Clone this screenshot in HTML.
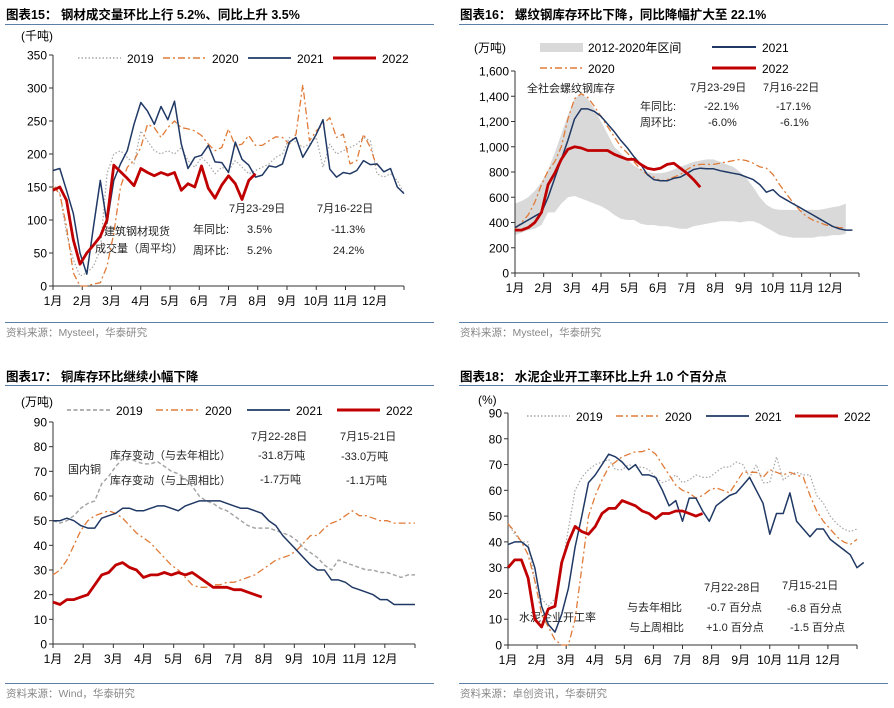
<!DOCTYPE html>
<html><head><meta charset="utf-8">
<style>
html,body{margin:0;padding:0;background:#fff;}
svg{display:block;font-family:"Liberation Sans","Noto Sans CJK SC",sans-serif;}
.t{font-size:12px;fill:#000;}
.ttl{font-size:12.5px;font-weight:bold;fill:#000;font-family:"Liberation Sans","Noto Sans CJK SC",sans-serif;}
.src{font-size:10.5px;fill:#888;}
.ann{font-size:11px;fill:#222;}
</style></head>
<body>
<svg id="root" width="894" height="708" viewBox="0 0 894 708" xmlns="http://www.w3.org/2000/svg">
<g>
<text class="ttl" x="6" y="19">图表15：  钢材成交量环比上行 5.2%、同比上升 3.5%</text>
<line x1="5" y1="24.5" x2="434" y2="24.5" stroke="#5b7fa6" stroke-width="1"/>
<line x1="5" y1="322.5" x2="434" y2="322.5" stroke="#5b7fa6" stroke-width="1"/>
<text class="src" x="6" y="336">资料来源：Mysteel，华泰研究</text>
<text class="t" x="21" y="40" font-size="11">(千吨)</text>
<text class="ann" x="229" y="212">7月23-29日</text>
<text class="ann" x="317" y="212">7月16-22日</text>
<text class="ann" x="193" y="233">年同比:</text>
<text class="ann" x="247" y="233">3.5%</text>
<text class="ann" x="331" y="233">-11.3%</text>
<text class="ann" x="193" y="254">周环比:</text>
<text class="ann" x="247" y="254">5.2%</text>
<text class="ann" x="333" y="254">24.2%</text>
<text class="ann" x="104" y="235">建筑钢材现货</text>
<text class="ann" x="95" y="252">成交量（周平均）</text>
</g>
<g>
<text class="ttl" x="460" y="19">图表16：  螺纹钢库存环比下降，同比降幅扩大至 22.1%</text>
<line x1="459" y1="24.5" x2="888" y2="24.5" stroke="#5b7fa6" stroke-width="1"/>
<line x1="459" y1="322.5" x2="888" y2="322.5" stroke="#5b7fa6" stroke-width="1"/>
<text class="src" x="460" y="336">资料来源：Mysteel，华泰研究</text>
<text class="t" x="474" y="52" font-size="11">(万吨)</text>
<rect x="540" y="43" width="43" height="9" fill="#d9d9d9"/>
<text class="t" x="588" y="52">2012-2020年区间</text>
<line x1="712" y1="47" x2="756" y2="47" stroke="#1f3864" stroke-width="2"/>
<text class="t" x="762" y="52">2021</text>
<line x1="540" y1="68" x2="583" y2="68" stroke="#e07b39" stroke-width="1.5" stroke-dasharray="7,3,2,3"/>
<text class="t" x="588" y="73">2020</text>
<line x1="712" y1="68" x2="756" y2="68" stroke="#c00000" stroke-width="3"/>
<text class="t" x="762" y="73">2022</text>
<text class="ann" x="527" y="92">全社会螺纹钢库存</text>
<text class="ann" x="690" y="91">7月23-29日</text>
<text class="ann" x="763" y="91">7月16-22日</text>
<text class="ann" x="640" y="110">年同比:</text>
<text class="ann" x="704" y="110">-22.1%</text>
<text class="ann" x="776" y="110">-17.1%</text>
<text class="ann" x="640" y="126">周环比:</text>
<text class="ann" x="708" y="126">-6.0%</text>
<text class="ann" x="780" y="126">-6.1%</text>
</g>
<g>
<text class="ttl" x="6" y="381">图表17：  铜库存环比继续小幅下降</text>
<line x1="5" y1="385.5" x2="434" y2="385.5" stroke="#5b7fa6" stroke-width="1"/>
<line x1="5" y1="683.5" x2="434" y2="683.5" stroke="#5b7fa6" stroke-width="1"/>
<text class="src" x="6" y="697">资料来源：Wind，华泰研究</text>
<text class="t" x="21" y="406" font-size="11">(万吨)</text>
<text class="ann" x="251" y="440">7月22-28日</text>
<text class="ann" x="340" y="440">7月15-21日</text>
<text class="ann" x="110" y="459">库存变动（与去年相比）</text>
<text class="ann" x="258" y="459">-31.8万吨</text>
<text class="ann" x="341" y="460">-33.0万吨</text>
<text class="ann" x="68" y="473">国内铜</text>
<text class="ann" x="110" y="484">库存变动（与上周相比）</text>
<text class="ann" x="260" y="483">-1.7万吨</text>
<text class="ann" x="346" y="484">-1.1万吨</text>
</g>
<g>
<text class="ttl" x="460" y="381">图表18：  水泥企业开工率环比上升 1.0 个百分点</text>
<line x1="459" y1="385.5" x2="888" y2="385.5" stroke="#5b7fa6" stroke-width="1"/>
<line x1="459" y1="683.5" x2="888" y2="683.5" stroke="#5b7fa6" stroke-width="1"/>
<text class="src" x="460" y="697">资料来源：卓创资讯，华泰研究</text>
<text class="t" x="478" y="404" font-size="11">(%)</text>
<text class="ann" x="704" y="591">7月22-28日</text>
<text class="ann" x="782" y="589">7月15-21日</text>
<text class="ann" x="627" y="611">与去年相比</text>
<text class="ann" x="707" y="611">-0.7 百分点</text>
<text class="ann" x="787" y="612">-6.8 百分点</text>
<text class="ann" x="629" y="631">与上周相比</text>
<text class="ann" x="706" y="631">+1.0 百分点</text>
<text class="ann" x="790" y="631">-1.5 百分点</text>
<text class="ann" x="519" y="621">水泥企业开工率</text>
</g>
</svg>
<script>
var months = ["1月","2月","3月","4月","5月","6月","7月","8月","9月","10月","11月","12月"];
// Chart 15 (千吨)
var c15Ticks = [0,50,100,150,200,250,300,350];
var c15y2019 = [155,140,80,40,15,20,30,55,170,200,205,195,185,235,220,205,200,205,200,210,190,180,195,185,170,180,175,190,180,170,175,180,185,195,200,225,218,210,215,225,180,215,200,205,210,215,225,220,170,165,170,160,140];
var c15y2020 = [150,140,90,20,0,0,3,5,30,80,150,180,190,210,245,240,225,240,250,240,238,235,228,215,205,210,238,212,215,228,213,213,220,226,225,215,230,305,220,235,245,255,225,230,185,190,230,210,180];
var c15y2021 = [175,178,145,110,50,18,90,160,95,160,185,205,245,278,265,245,272,252,280,215,178,195,198,213,188,187,172,218,192,183,165,168,182,180,185,218,225,195,212,230,252,177,165,172,170,175,190,184,185,173,178,150,140];
var c15y2022 = [145,150,130,70,33,50,62,75,100,183,173,163,152,178,172,167,172,168,172,145,155,150,182,148,133,153,167,155,131,160,170];
// Chart 16 (万吨)
var c16Ticks = [0,200,400,600,800,1000,1200,1400,1600];
var c16BandHi = [550,570,600,650,720,820,950,1100,1250,1380,1420,1380,1300,1200,1100,1000,950,900,850,820,800,790,790,800,820,840,860,880,890,900,900,880,860,840,800,750,680,600,540,510,500,500,500,500,500,500,500,510,520,530,550];
var c16BandLo = [300,320,340,350,380,480,480,550,600,610,590,570,550,530,500,460,430,420,420,390,380,380,370,370,360,350,350,370,380,390,400,410,410,410,400,410,410,390,360,330,300,290,280,280,280,280,290,290,300,300,310];
var c16y2020 = [350,400,460,560,700,810,880,1000,1220,1380,1420,1390,1320,1240,1160,1080,1000,950,880,820,780,760,730,740,760,780,820,850,860,860,860,870,880,890,900,890,870,840,830,780,700,630,560,500,450,420,400,380,370,360,360];
var c16y2021 = [360,390,420,450,480,600,750,900,1050,1220,1300,1300,1280,1240,1180,1120,1050,990,920,860,780,740,730,730,750,760,790,820,830,825,825,810,800,790,780,760,740,700,640,660,610,580,550,520,490,460,430,400,370,350,340,340];
var c16y2022 = [340,340,360,400,480,700,790,900,980,1000,990,970,970,970,970,940,920,900,900,860,830,820,830,860,870,830,790,740,680];
// Chart 17 (万吨)
var c17Ticks = [0,10,20,30,40,50,60,70,80,90];
var c17y2019 = [50,49,50,52,55,57,58,65,68,72,75,75,74,73,73,74,72,70,69,67,64,60,58,57,55,54,52,50,48,47,47,47,46,45,44,42,39,37,35,32,30,34,33,32,31,30,30,29,29,28,27,28,28];
var c17y2020 = [28,30,34,40,46,50,52,53,54,53,51,48,45,43,41,38,35,32,30,27,24,23,23,24,24,25,25,26,27,28,30,32,34,35,36,38,41,44,44,47,49,50,52,54,52,52,51,50,50,49,49,49,49];
var c17y2021 = [50,50,51,50,48,47,47,51,52,53,55,55,54,54,55,56,56,55,54,56,57,58,58,58,58,57,56,55,55,54,53,50,48,44,41,38,35,32,30,30,26,26,25,23,22,21,20,18,18,16,16,16,16];
var c17y2022 = [17,16,18,18,19,20,24,28,29,32,33,31,30,27,28,28,29,28,29,28,29,27,25,23,23,23,22,22,21,20,19];
// Chart 18 (%)
var c18Ticks = [0,10,20,30,40,50,60,70,80,90];
var c18y2019 = [47,43,40,40,25,18,15,18,30,45,60,65,68,70,71,72,68,68,70,69,69,68,65,63,64,66,63,64,66,65,65,67,69,69,71,70,65,70,63,63,73,64,66,67,66,66,58,55,50,47,45,44,45];
var c18y2020 = [47,44,40,35,25,12,7,2,0,0,10,30,50,58,64,69,71,73,74,75,75,76,74,70,66,62,60,59,57,58,60,61,60,59,63,67,67,67,65,68,67,66,67,66,65,58,52,48,45,42,40,39,41];
var c18y2021 = [39,40,40,38,30,15,8,5,12,22,38,50,63,66,70,74,73,71,68,70,66,66,65,60,54,56,48,57,57,52,48,54,56,58,59,62,65,60,55,43,51,51,59,48,45,42,45,45,41,39,37,35,30,32];
var c18y2022 = [30,33,33,26,10,7,14,15,32,40,46,44,43,46,51,53,53,56,55,54,52,51,49,51,51,52,52,51,50,51];

var NS = "http://www.w3.org/2000/svg";
var root = document.getElementById("root");
function mk(tag, attrs, parent){
  var e = document.createElementNS(NS, tag);
  for (var k in attrs) e.setAttribute(k, attrs[k]);
  (parent||root).appendChild(e);
  return e;
}
var STY = {
  g2019: {stroke:"#a6a6a6", w:1.2, dash:"1.5,2"},
  g2019d: {stroke:"#a6a6a6", w:1.5, dash:"4,2.5"},
  o2020: {stroke:"#e07b39", w:1.3, dash:"7,3,2,3"},
  b2021: {stroke:"#1f3864", w:1.5, dash:""},
  r2022: {stroke:"#c00000", w:2.8, dash:""}
};
function buildChart(id, x0, x1, yb, yt, vmax, ticks, fmt, series, band, legend){
  var g = mk("g", {});
  
  
  function sx(i){ return x0 + i * (x1 - x0) / 52; }
  function sy(v){ return yb - v / vmax * (yb - yt); }
  if (band) {
    var d = "";
    for (var i = 0; i < band.hi.length; i++) d += (i ? "L" : "M") + sx(i).toFixed(1) + "," + sy(band.hi[i]).toFixed(1);
    for (var j = band.lo.length - 1; j >= 0; j--) d += "L" + sx(j).toFixed(1) + "," + sy(band.lo[j]).toFixed(1);
    var bp = mk("path", {d: d + "Z", fill: "#d9d9d9"}, g);
    
    
  }
  var ax = mk("line", {x1:x0, y1:yt, x2:x0, y2:yb, stroke:"#333", "stroke-width":1}, g);
  
  
  var xa = mk("line", {x1:x0, y1:yb, x2:x1, y2:yb, stroke:"#333", "stroke-width":1}, g);
  
  
  ticks.forEach(function(t){
    var y = sy(t);
    mk("line", {x1:x0-4, y1:y, x2:x0, y2:y, stroke:"#333"}, g);
    var tl = mk("text", {x:x0-6, y:y+4.5, "text-anchor":"end", "class":"t", "font-size":"13"}, g);
    tl.textContent = fmt(t);
    
    
  });
  for (var m = 0; m <= 12; m++) {
    var xm = x0 + m * (x1 - x0) / 12;
    mk("line", {x1:xm, y1:yb, x2:xm, y2:yb+4, stroke:"#333"}, g);
    if (m < 12) {
      var ml = mk("text", {x:xm, y:yb+19, "text-anchor":"middle", "class":"t", "font-size":"12.5"}, g);
      ml.textContent = months[m];
      
      
    }
  }
  series.forEach(function(s){
    var st = STY[s.sty];
    var d = "";
    for (var i = 0; i < s.data.length; i++) d += (i ? "L" : "M") + sx(i).toFixed(1) + "," + sy(s.data[i]).toFixed(1);
    var p = mk("path", {d:d, fill:"none", stroke:st.stroke, "stroke-width":st.w, "stroke-dasharray":st.dash, "stroke-linejoin":"round"}, g);
    
    
  });
  if (legend) {
    legend.items.forEach(function(it){
      var st = STY[it.sty];
      var l = mk("line", {x1:it.x, y1:legend.y, x2:it.x+43, y2:legend.y, stroke:st.stroke, "stroke-width":st.w+0.3, "stroke-dasharray":st.dash}, g);
      
      
      var lt = mk("text", {x:it.x+49, y:legend.y+5, "class":"t", "font-size":"12.5"}, g);
      lt.textContent = it.label;
      
      
    });
  }
}
function plain(v){ return String(v); }
function comma(v){ return v >= 1000 ? Math.floor(v/1000) + "," + String(v%1000).padStart(3,"0") : String(v); }

buildChart("15", 53, 404, 286, 55, 350, c15Ticks, plain,
  [{name:"2019", sty:"g2019", data:c15y2019},{name:"2020", sty:"o2020", data:c15y2020},{name:"2021", sty:"b2021", data:c15y2021},{name:"2022", sty:"r2022", data:c15y2022}],
  null, {y:58, items:[{x:78,label:"2019",sty:"g2019"},{x:163,label:"2020",sty:"o2020"},{x:248,label:"2021",sty:"b2021"},{x:333,label:"2022",sty:"r2022"}]});
buildChart("16", 515, 859, 273, 71, 1600, c16Ticks, comma,
  [{name:"2020", sty:"o2020", data:c16y2020},{name:"2021", sty:"b2021", data:c16y2021},{name:"2022", sty:"r2022", data:c16y2022}],
  {hi:c16BandHi, lo:c16BandLo}, null);
buildChart("17", 53, 415, 644, 422, 90, c17Ticks, plain,
  [{name:"2019", sty:"g2019d", data:c17y2019},{name:"2020", sty:"o2020", data:c17y2020},{name:"2021", sty:"b2021", data:c17y2021},{name:"2022", sty:"r2022", data:c17y2022}],
  null, {y:410, items:[{x:67,label:"2019",sty:"g2019d"},{x:156,label:"2020",sty:"o2020"},{x:247,label:"2021",sty:"b2021"},{x:337,label:"2022",sty:"r2022"}]});
buildChart("18", 508, 857, 645, 413, 90, c18Ticks, plain,
  [{name:"2019", sty:"g2019", data:c18y2019},{name:"2020", sty:"o2020", data:c18y2020},{name:"2021", sty:"b2021", data:c18y2021},{name:"2022", sty:"r2022", data:c18y2022}],
  null, {y:416, items:[{x:527,label:"2019",sty:"g2019"},{x:616,label:"2020",sty:"o2020"},{x:706,label:"2021",sty:"b2021"},{x:795,label:"2022",sty:"r2022"}]});
</script>
</body></html>
